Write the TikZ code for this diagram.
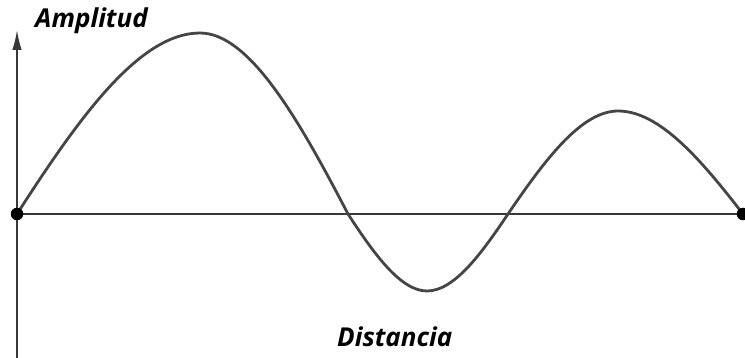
\documentclass[tikz,border=0pt]{standalone}
\usepackage{fontspec}
\setmainfont{Open Sans}
\usetikzlibrary{arrows.meta}
\definecolor{curvegray}{HTML}{454545}
\definecolor{axisgray}{HTML}{383838}
\begin{document}
\begin{tikzpicture}[x=1pt,y=-1pt,
  axisline/.style={draw=axisgray,line width=1.6pt},
  wave/.style={draw=curvegray,line width=2.8pt,line join=round,line cap=round},
  enddot/.style={circle,fill=black,inner sep=0pt,minimum size=12.5pt},
  lbl/.style={anchor=base west,inner sep=0pt,font=\fontsize{26}{30}\selectfont\bfseries\itshape}]
\useasboundingbox (0,0) rectangle (745,358);
% points
\coordinate (ybot) at (17,360);
\coordinate (ytop) at (17,30);
\coordinate (oc) at (17,214);
\coordinate (ec) at (743,214);
% axes
\draw[axisline,-{Latex[length=20pt,width=9.5pt]}] (ybot) -- (ytop);
\draw[axisline] (oc) -- (ec);
% wave
\draw[wave] (oc)
  .. controls (78,119.2) and (139,33) .. (200,33)
  .. controls (249.3,33) and (298.7,119.2) .. (348,214)
  .. controls (374.3,254.3) and (400.7,291) .. (427,291)
  .. controls (454,291) and (481,254.3) .. (508,214)
  .. controls (544.7,160.1) and (581.3,111) .. (618,111)
  .. controls (659.7,111) and (701.3,160.1) .. (ec);
\node[enddot] (o) at (oc) {};
\node[enddot] (e) at (ec) {};
\node[lbl] (amp) at (35,28) {Amplitud};
\node[lbl] (dist) at (337,346) {Distancia};
\end{tikzpicture}
\end{document}
